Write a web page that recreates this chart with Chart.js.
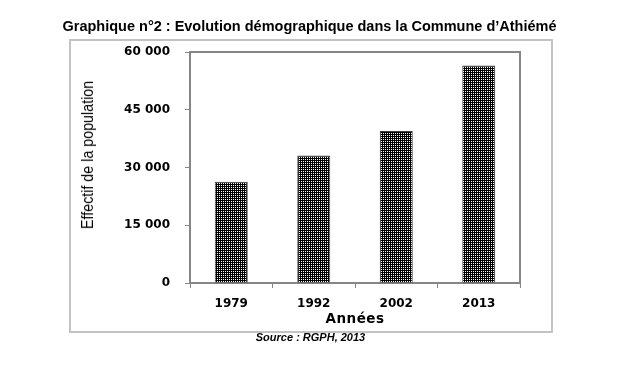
<!DOCTYPE html>
<html>
<head>
<meta charset="utf-8">
<script src="https://cdn.jsdelivr.net/npm/chart.js@4"></script>
<style>
  html, body { margin:0; padding:0; background:#fff; }
  #wrap { position:relative; width:631px; height:365px; overflow:hidden; }
  #frame { position:absolute; left:69px; top:39px; width:480px; height:290px; border:2px solid #c3c3c3; box-sizing:content-box; }
  #c { position:absolute; left:0; top:0; }
  .txt { position:absolute; white-space:nowrap; color:#000; }
  #title { left:0; width:619px; top:18px; text-align:center; font:bold 14.5px "Liberation Sans", Arial, sans-serif; }
  #source { left:0; width:621px; top:331px; text-align:center; font:italic bold 11px "Liberation Sans", Arial, sans-serif; }
  #ytitle { left:88px; top:155px; transform:translate(-50%,-50%) rotate(-90deg) scaleX(0.84); font:17px "Liberation Sans", sans-serif; }
  #xtitle { left:355px; top:318px; transform:translate(-50%,-50%); font:bold 13.5px "DejaVu Sans", Verdana, sans-serif; letter-spacing:0.5px; }
</style>
</head>
<body>
<div id="wrap">
  <div id="frame"></div>
  <canvas id="c" width="631" height="365"></canvas>
  <div id="title" class="txt">Graphique n°2 : Evolution démographique dans la Commune d’Athiémé</div>
  <div id="ytitle" class="txt">Effectif de la population</div>
  <div id="xtitle" class="txt">Années</div>
  <div id="source" class="txt">Source : RGPH, 2013</div>
</div>
<script>
const categories = ["1979", "1992", "2002", "2013"];
const population = [26300, 33100, 39480, 56480];
const yTicks = [0, 15000, 30000, 45000, 60000];

function makePattern() {
  const p = document.createElement('canvas');
  p.width = 2; p.height = 2;
  const g = p.getContext('2d');
  g.fillStyle = '#000'; g.fillRect(0, 0, 2, 2);
  g.fillStyle = '#fff'; g.fillRect(1, 1, 1, 1);
  return g.createPattern(p, 'repeat');
}

const plotBorder = {
  id: 'plotBorder',
  afterDraw(chart) {
    const a = chart.chartArea, ctx = chart.ctx;
    ctx.save();
    ctx.strokeStyle = '#868686';
    ctx.lineWidth = 2;
    ctx.beginPath();
    ctx.moveTo(a.left, a.top);
    ctx.lineTo(a.right, a.top);
    ctx.lineTo(a.right, a.bottom);
    ctx.stroke();
    ctx.restore();
  }
};

const ctx = document.getElementById('c').getContext('2d');
new Chart(ctx, {
  type: 'bar',
  data: {
    labels: categories,
    datasets: [{
      data: population,
      backgroundColor: makePattern(),
      borderColor: '#444',
      borderWidth: 1,
      categoryPercentage: 1.0,
      barPercentage: 0.4
    }]
  },
  options: {
    responsive: false,
    animation: false,
    devicePixelRatio: 1,
    layout: { padding: { top: 52, right: 111, left: 0, bottom: 0 } },
    plugins: { legend: { display: false }, tooltip: { enabled: false }, title: { display: false } },
    scales: {
      x: {
        afterFit(s) { s.height = 82; },
        grid: { drawOnChartArea: false, drawTicks: true, tickLength: 5, color: '#868686', lineWidth: 1 },
        border: { color: '#868686', width: 2 },
        ticks: { color: '#000', padding: 9, font: { family: 'DejaVu Sans', size: 12, weight: 'bold' } }
      },
      y: {
        min: 0, max: 60000,
        afterFit(s) { s.width = 190; },
        afterBuildTicks(s) { s.ticks = yTicks.map(v => ({ value: v })); },
        grid: { drawOnChartArea: false, drawTicks: true, tickLength: 5, color: '#868686', lineWidth: 1 },
        border: { color: '#868686', width: 2 },
        ticks: {
          color: '#000', padding: 15,
          font: { family: 'DejaVu Sans', size: 12, weight: 'bold' },
          callback: v => v === 0 ? '0' : String(v).replace(/\B(?=(\d{3})+(?!\d))/g, ' ')
        }
      }
    }
  },
  plugins: [plotBorder]
});
</script>
</body>
</html>
